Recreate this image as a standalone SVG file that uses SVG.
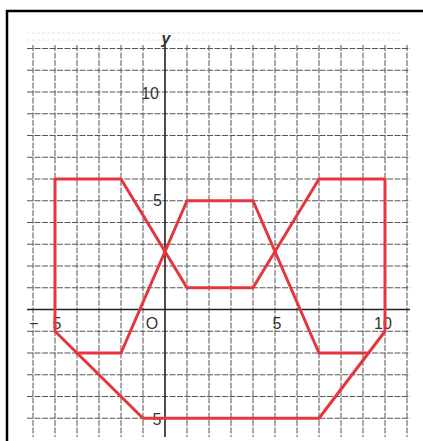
<svg xmlns="http://www.w3.org/2000/svg" width="423" height="441" viewBox="0 0 423 441">
<style>
.g{stroke:#555;stroke-width:1;stroke-dasharray:6 1.5;fill:none}
.f{stroke:#e4e4e4;stroke-width:1;stroke-dasharray:3 2;fill:none}
.ax{stroke:#222;stroke-width:1.6;fill:none}
.r{stroke:#e5363e;stroke-width:3;fill:none;stroke-linejoin:round;stroke-linecap:round}
.t{font-family:"Liberation Sans",Arial,sans-serif;font-size:16px;fill:#333}
</style>
<rect x="0" y="0" width="423" height="441" fill="#fff"/>
<path d="M7 441V11H423" stroke="#000" stroke-width="2.5" fill="none"/>
<g id="faint">
<path class="f" d="M27 33H400M27 40H400"/>
</g>
<g id="grid">
<path class="g" d="M33 45V437M55 45V437M77 45V437M99 45V437M121 45V437M143 45V437M187 45V437M209 45V437M231 45V437M253 45V437M275 45V437M297 45V437M319 45V437M341 45V437M363 45V437M385 45V437M407 45V437"/>
<path class="g" d="M27 48.5H410M27 70.25H410M27 92H410M27 113.75H410M27 135.5H410M27 157.25H410M27 179H410M27 200.75H410M27 222.5H410M27 244.25H410M27 266H410M27 287.75H410M27 331.25H410M27 353H410M27 374.75H410M27 396.5H410M27 418.25H410"/>
</g>
<g id="axes">
<path class="ax" d="M27 309.5H410M165 45V437"/>
</g>
<g id="labels">
<text class="t" x="166" y="44" text-anchor="middle" font-style="italic" font-weight="bold" font-size="14">y</text>
<text class="t" x="159" y="99" text-anchor="end">10</text>
<text class="t" x="162" y="206" text-anchor="end">5</text>
<text class="t" x="152" y="329" text-anchor="middle">O</text>
<text class="t" x="277" y="329" text-anchor="middle">5</text>
<text class="t" x="383" y="329" text-anchor="middle">10</text>
<text class="t" x="34" y="329" text-anchor="middle" fill="#aaa">−</text>
<text class="t" x="57" y="329" text-anchor="middle">5</text>
<text class="t" x="157" y="425" text-anchor="middle">5</text>
</g>
<g id="shapes">
<polygon class="r" points="55,179 121,179 187,287.75 253,287.75 319,179 385,179 385,331.25 319,418.25 143,418.25 55,331.25"/>
<polyline class="r" points="77,353 121,353 187,200.75 253,200.75 319,353 368.5,353"/>
</g>
</svg>
